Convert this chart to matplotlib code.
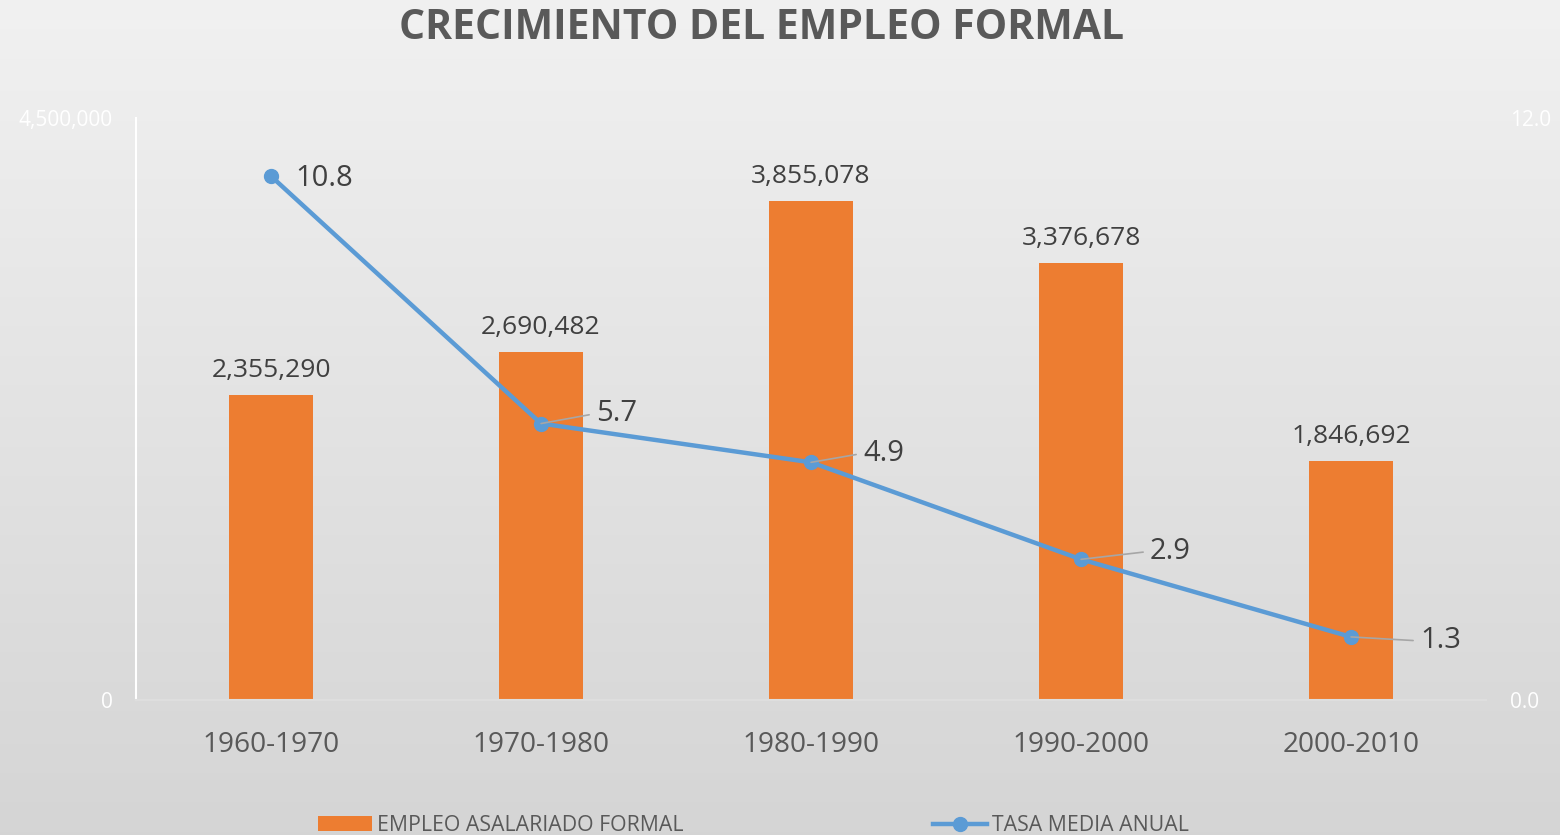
import matplotlib
matplotlib.use('Agg')
import matplotlib.pyplot as plt
import numpy as np

plt.rcParams['font.family'] = ['Open Sans', 'DejaVu Sans']

# datos
periodos = ['1960-1970', '1970-1980', '1980-1990', '1990-2000', '2000-2010']
empleo = [2355290, 2690482, 3855078, 3376678, 1846692]
tasa = [10.8, 5.7, 4.9, 2.9, 1.3]
# desplazamiento de las etiquetas de la tasa (pixeles)
desp = [(24, -2), (55, 10), (52, 9), (69, 8), (69, -4)]

naranja = '#ED7D31'
azul = '#5B9BD5'
gris = '#595959'

fig = plt.figure(figsize=(15.6, 8.35), dpi=100)

# fondo degradado
bg = fig.add_axes([0, 0, 1, 1], zorder=-10)
grad = np.linspace(0, 1, 256).reshape(-1, 1)
top = np.array([0.945, 0.945, 0.945])
bot = np.array([0.835, 0.835, 0.835])
img = top + (bot - top) * grad[:, :, None]
bg.imshow(img, aspect='auto', extent=[0, 1, 0, 1])
bg.axis('off')

ax = fig.add_axes([0.0872, 0.1617, 0.8654, 0.697])
ax.patch.set_alpha(0)
x = np.arange(len(periodos))
ax.bar(x, empleo, width=0.31, color=naranja, label='EMPLEO ASALARIADO FORMAL', zorder=2)
ax.set_xlim(-0.5, 4.5)
ax.set_ylim(0, 4500000)
ax.set_yticks([0, 4500000])
ax.set_yticklabels(['0', '4,500,000'], color='white', fontsize=15)
ax.set_xticks(x)
ax.set_xticklabels(periodos, fontsize=20.2, color=gris)
ax.tick_params(axis='both', length=0)
ax.tick_params(axis='x', pad=22)
ax.tick_params(axis='y', pad=16.5)
for s in ['top', 'right']:
    ax.spines[s].set_visible(False)
ax.spines['left'].set_color('white')
ax.spines['left'].set_linewidth(1.5)
ax.spines['bottom'].set_color('#dedede')
ax.spines['bottom'].set_linewidth(1.5)

for xi, v in zip(x, empleo):
    ax.annotate(f'{v:,}', (xi, v), xytext=(0, 12), textcoords='offset pixels',
                ha='center', va='bottom', fontsize=19, color='#404040')

ax2 = ax.twinx()
ax2.set_ylim(0, 12)
ax2.set_yticks([0, 12])
ax2.set_yticklabels(['0.0', '12.0'], color='white', fontsize=15)
ax2.tick_params(axis='y', length=0, pad=17)
for s in ['top', 'right', 'left', 'bottom']:
    ax2.spines[s].set_visible(False)
ax2.plot(x, tasa, color=azul, lw=3.2, marker='o', ms=10, label='TASA MEDIA ANUAL', zorder=3)

for i, (xi, v) in enumerate(zip(x, tasa)):
    dx, dy = desp[i]
    if i == 0:
        ax2.annotate(f'{v}', (xi, v), xytext=(dx, dy), textcoords='offset pixels',
                     ha='left', va='center', fontsize=21, color='#404040')
    else:
        ax2.annotate(f'{v}', (xi, v), xytext=(dx, dy), textcoords='offset pixels',
                     ha='left', va='center', fontsize=21, color='#404040',
                     arrowprops=dict(arrowstyle='-', color='#a6a6a6', lw=1.2,
                                     shrinkA=3, shrinkB=0, relpos=(0, 0.5)))

fig.text(0.4885, 0.966, 'CRECIMIENTO DEL EMPLEO FORMAL', ha='center', va='center',
         fontsize=29.5, fontweight='bold', color=gris)

h1, l1 = ax.get_legend_handles_labels()
h2, l2 = ax2.get_legend_handles_labels()
fig.legend(h1 + h2, l1 + l2, loc='center', bbox_to_anchor=(0.483, 0.011), ncol=2,
           frameon=False, fontsize=15.3, labelcolor=gris, columnspacing=11.7,
           handlelength=2.55, handletextpad=0.25)

fig.savefig('out.png', dpi=100)
